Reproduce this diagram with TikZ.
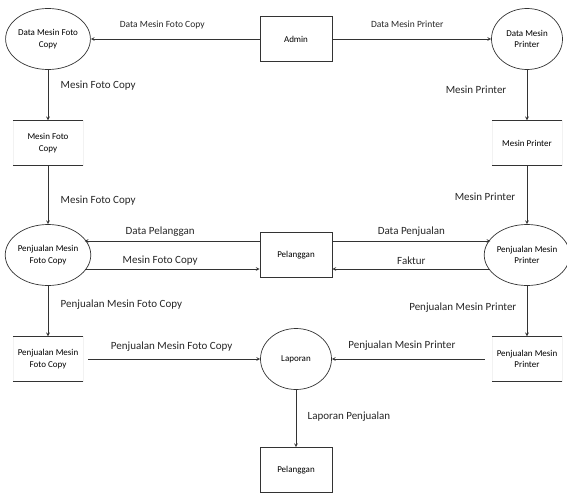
\documentclass[tikz,border=0pt]{standalone}
\usepackage{fontspec}
\setmainfont{Carlito}
\usetikzlibrary{shapes.geometric, arrows}
\tikzstyle{proc} = [ellipse, minimum width=71pt, minimum height=61pt, inner sep=0pt, align=center, draw=black!80, line width=0.7pt, font=\fontsize{9}{11.5}\selectfont]
\tikzstyle{entity} = [rectangle, minimum width=72pt, minimum height=45pt, text centered, draw=black!80, line width=0.7pt, font=\fontsize{9}{11.5}\selectfont]
\tikzstyle{store} = [rectangle, minimum width=70pt, minimum height=45pt, align=center, draw=black!5, font=\fontsize{9}{11.5}\selectfont]
\tikzstyle{arrow} = [line width=0.7pt, draw=black!80, ->, >=stealth]
\tikzstyle{lbl} = [font=\fontsize{9.5}{11}\selectfont, text=black!85]
\tikzstyle{biglbl} = [font=\fontsize{11}{13}\selectfont, text=black!85]

\begin{document}
\begin{tikzpicture}[node distance=104pt, x=1pt, y=-1pt]
\useasboundingbox (0,0) rectangle (567,495);
\node (dmfc) [proc] at (48,39) {Data Mesin Foto\\Copy};
\node (admin) [entity, right of=dmfc, xshift=144pt] {Admin};
\node (dmp) [proc, right of=admin, xshift=127pt] {Data Mesin\\Printer};
\node (mfc) [store, below of=dmfc] {Mesin Foto\\Copy};
\node (mp) [store, below of=dmp] {Mesin Printer};
\node (pmfc) [proc, below of=mfc, yshift=-8pt] {Penjualan Mesin\\Foto Copy};
\node (pel1) [entity, right of=pmfc, xshift=144pt] {Pelanggan};
\node (pmp) [proc, right of=pel1, xshift=127pt] {Penjualan Mesin\\Printer};
\node (spmfc) [store, below of=pmfc] {Penjualan Mesin\\Foto Copy};
\node (spmp) [store, below of=pmp] {Penjualan Mesin\\Printer};
\node (lap) [proc, right of=spmfc, xshift=144pt] {Laporan};
\node (pel2) [entity, below of=lap, yshift=-7pt] {Pelanggan};
% garis data store
\foreach \s in {mfc, mp, spmfc, spmp}
  \draw [line width=0.7pt, black!80] (\s.north west) -- (\s.north east) (\s.south west) -- (\s.south east);
\draw [arrow] (admin) -- node[lbl, xshift=-13pt, yshift=14pt] {Data Mesin Foto Copy} (dmfc);
\draw [arrow] (admin) -- node[lbl, xshift=-4.5pt, yshift=15pt] {Data Mesin Printer} (dmp);
\draw [arrow] (dmfc) -- node[biglbl, anchor=west, xshift=9pt, yshift=9pt] {Mesin Foto Copy} (mfc);
\draw [arrow] (dmp) -- node[biglbl, anchor=east, xshift=-17pt, yshift=5pt] {Mesin Printer} (mp);
\draw [arrow] (mfc) -- node[biglbl, anchor=west, xshift=9pt, yshift=-6pt] {Mesin Foto Copy} (pmfc);
\draw [arrow] (mp) -- node[biglbl, anchor=east, xshift=-8pt, yshift=-2pt] {Mesin Printer} (pmp);
\draw [arrow] ([yshift=14pt]pel1.west) -- node[biglbl, xshift=-12pt, yshift=9pt] {Data Pelanggan} ([yshift=14pt]pel1.west -| pmfc.24);
\draw [arrow] ([yshift=-14pt]pel1.west -| pmfc.-24) -- node[biglbl, xshift=-12pt, yshift=8pt] {Mesin Foto Copy} ([yshift=-14pt]pel1.west);
\draw [arrow] ([yshift=14pt]pel1.east) -- node[biglbl, yshift=9pt] {Data Penjualan} ([yshift=14pt]pel1.east -| pmp.156);
\draw [arrow] ([yshift=-14pt]pel1.east -| pmp.204) -- node[biglbl, yshift=8pt] {Faktur} ([yshift=-14pt]pel1.east);
\draw [arrow] (pmfc) -- node[biglbl, anchor=west, xshift=9pt, yshift=6pt] {Penjualan Mesin Foto Copy} (spmfc);
\draw [arrow] (pmp) -- node[biglbl, anchor=east, xshift=-7pt, yshift=3pt] {Penjualan Mesin Printer} (spmp);
\draw [arrow, shorten <=5pt] (spmfc) -- node[biglbl, yshift=12pt] {Penjualan Mesin Foto Copy} (lap);
\draw [arrow, shorten <=7pt] (spmp) -- node[biglbl, xshift=-10pt, yshift=13pt] {Penjualan Mesin Printer} (lap);
\draw [arrow] (lap) -- node[biglbl, anchor=west, xshift=8pt, yshift=1.5pt] {Laporan Penjualan} (pel2);
\end{tikzpicture}
\end{document}
